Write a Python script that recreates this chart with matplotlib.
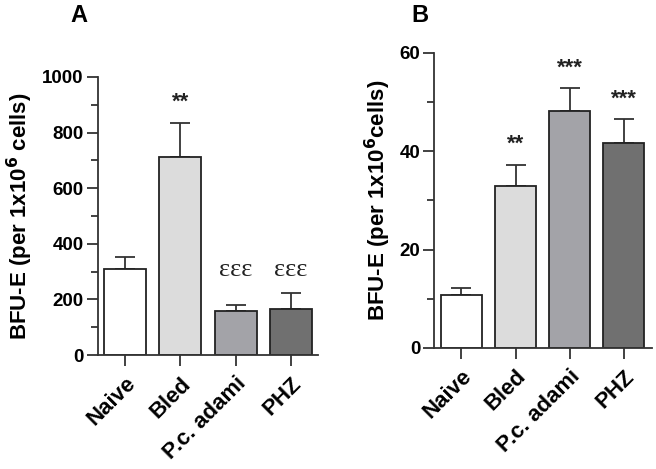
import matplotlib
matplotlib.use("Agg")
import matplotlib.pyplot as plt
import numpy as np

categories = ["Naive", "Bled", "P.c. adami", "PHZ"]
colors = ["#ffffff", "#dcdcdc", "#a3a3a8", "#707070"]

a_values = [309, 712, 158, 166]
a_errors = [44, 123, 22, 57]
a_marks = ["", "**", "εεε", "εεε"]

b_values = [10.8, 32.9, 48.3, 41.6]
b_errors = [1.5, 4.4, 4.5, 4.9]
b_marks = ["", "**", "***", "***"]

plt.rcParams['font.family'] = ['Liberation Sans', 'DejaVu Sans']
plt.rcParams['font.weight'] = 'bold'

fig = plt.figure(figsize=(6.56, 4.69), dpi=100)
axA = fig.add_axes([0.149, 0.243, 0.336, 0.593])
axB = fig.add_axes([0.662, 0.258, 0.332, 0.629])

edge = "#222222"

def draw(ax, vals, errs, marks, ymax, major, minor, ylabel, xlim, mark_off):
    x = np.arange(len(categories))
    ax.bar(x, vals, width=0.76, color=colors, edgecolor=edge, linewidth=1.3, zorder=2)
    ax.errorbar(x, vals, yerr=[np.zeros(len(vals)), errs], fmt='none',
                ecolor="#333333", elinewidth=1.3, capsize=7.5, capthick=1.3, zorder=1)
    eps_tops = [v + e for v, e, m in zip(vals, errs, marks) if m.startswith("ε")]
    eps_top = max(eps_tops) if eps_tops else 0
    for xi, v, e, m in zip(x, vals, errs, marks):
        if not m:
            continue
        if m.startswith("ε"):
            ax.annotate(m, (xi, eps_top), xytext=(0, 9), textcoords='offset points',
                        ha='center', va='bottom', fontsize=19, fontweight='normal',
                        family=['Liberation Serif', 'DejaVu Serif'], color="#222222")
        else:
            ax.annotate(m, (xi, v + e), xytext=(0, mark_off), textcoords='offset points',
                        ha='center', va='bottom', fontsize=16, fontweight='bold',
                        color="#222222")
    ax.set_ylim(0, ymax)
    ax.set_xlim(*xlim)
    ax.set_yticks(np.arange(0, ymax + 1e-9, major))
    ax.set_yticks(np.arange(0, ymax + 1e-9, minor), minor=True)
    ax.set_xticks(x)
    ax.set_xticklabels(categories, rotation=45, ha='right', rotation_mode='anchor',
                       fontsize=16, fontweight='bold')
    for lbl in ax.get_yticklabels():
        lbl.set_fontsize(13.5)
        lbl.set_fontweight('bold')
    ax.set_ylabel(ylabel, fontsize=16, fontweight='bold', labelpad=5)
    for s in ['top', 'right']:
        ax.spines[s].set_visible(False)
    for s in ['left', 'bottom']:
        ax.spines[s].set_linewidth(1.3)
        ax.spines[s].set_color("#333333")
    ax.tick_params(axis='both', which='major', length=8, width=1.3, color="#333333", pad=2)
    ax.tick_params(axis='y', which='minor', length=5, width=1.3, color="#333333")
    ax.tick_params(axis='x', pad=5)

draw(axA, a_values, a_errors, a_marks, 1000, 200, 100,
     r"BFU-E (per 1x10$^\mathbf{6}$ cells)", (-0.49, 3.49), 7)
draw(axB, b_values, b_errors, b_marks, 60, 20, 10,
     r"BFU-E (per 1x10$^\mathbf{6}$cells)", (-0.5, 3.52), 7)

fig.text(0.12, 0.966, "A", fontsize=17, fontweight='bold', ha='center', va='center')
fig.text(0.64, 0.966, "B", fontsize=17, fontweight='bold', ha='center', va='center')

fig.savefig("out.png", dpi=100)
